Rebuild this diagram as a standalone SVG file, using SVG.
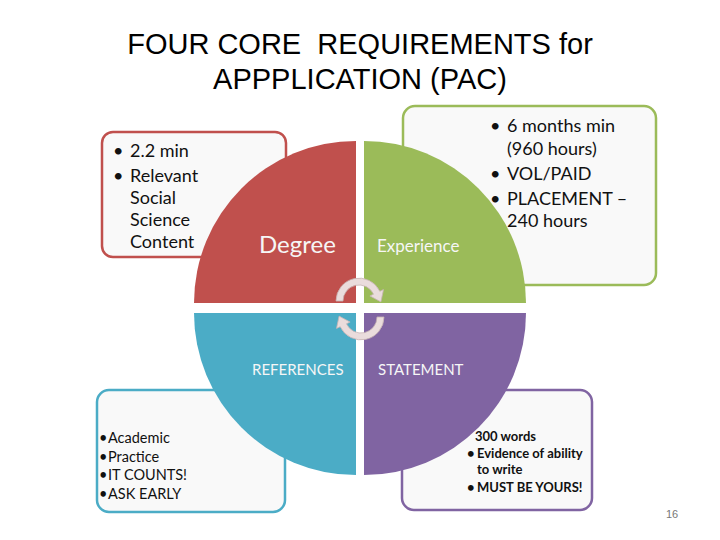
<svg xmlns="http://www.w3.org/2000/svg" width="720" height="540" viewBox="0 0 720 540">
<style>
.title{font-family:"Liberation Sans",Arial,sans-serif;font-size:29px;fill:#000;text-anchor:middle}
.box{fill:#F9F9F9;stroke-width:2.5}
.bt{font-family:Lato,"Open Sans",sans-serif;font-size:18px;fill:#111}
.st{font-family:Lato,"Open Sans",sans-serif;font-size:14.5px;fill:#111}
.sb{font-family:Lato,"Open Sans",sans-serif;font-size:13px;font-weight:bold;fill:#111}
.lbl{font-family:Lato,"Open Sans",sans-serif;fill:#F6F6F6}
.arr{fill:#EADCDC;stroke:#C8B4B4;stroke-width:0.8}
.pg{font-family:"Liberation Sans",Arial,sans-serif;font-size:11px;fill:#777}
</style>
<rect width="720" height="540" fill="#FFFFFF"/>
<g id="title">
<text class="title" x="360" y="54" xml:space="preserve">FOUR CORE  REQUIREMENTS for</text>
<text class="title" x="360" y="89">APPPLICATION (PAC)</text>
</g>
<g id="box-degree">
<rect class="box" x="102" y="132" width="184" height="125" rx="11" stroke="#C0504D"/>
<text class="bt" x="113" y="157">•</text><text class="bt" x="130" y="157">2.2 min</text>
<text class="bt" x="113" y="182">•</text><text class="bt" x="130" y="182">Relevant</text>
<text class="bt" x="130" y="204">Social</text>
<text class="bt" x="130" y="226">Science</text>
<text class="bt" x="130" y="248">Content</text>
</g>
<g id="box-experience">
<rect class="box" x="403" y="106" width="253" height="179" rx="12" stroke="#9BBB59"/>
<text class="bt" x="490" y="132">•</text><text class="bt" x="507" y="132">6 months min</text>
<text class="bt" x="507" y="155">(960 hours)</text>
<text class="bt" x="490" y="180">•</text><text class="bt" x="507" y="180">VOL/PAID</text>
<text class="bt" x="490" y="205">•</text><text class="bt" x="507" y="205">PLACEMENT –</text>
<text class="bt" x="507" y="227">240 hours</text>
</g>
<g id="box-references">
<rect class="box" x="97" y="390" width="188" height="122" rx="12" stroke="#4BACC6"/>
<text class="st" x="99" y="443">•</text><text class="st" x="108" y="443">Academic</text>
<text class="st" x="99" y="462">•</text><text class="st" x="108" y="462">Practice</text>
<text class="st" x="99" y="480">•</text><text class="st" x="108" y="480">IT COUNTS!</text>
<text class="st" x="99" y="499">•</text><text class="st" x="108" y="499">ASK EARLY</text>
</g>
<g id="box-statement">
<rect class="box" x="402" y="390" width="190" height="120" rx="12" stroke="#8064A2"/>
<text class="sb" x="475" y="441">300 words</text>
<text class="sb" x="467" y="458">•</text><text class="sb" x="477" y="458">Evidence of ability</text>
<text class="sb" x="477" y="474">to write</text>
<text class="sb" x="467" y="492">•</text><text class="sb" x="477" y="492">MUST BE YOURS!</text>
</g>
<g id="degree">
<path d="M356,303 H194 A162 162 0 0 1 356,141 Z" fill="#C0504D"/>
<text class="lbl" x="259" y="253" font-size="24">Degree</text>
</g>
<g id="experience">
<path d="M364,303 V141 A162 162 0 0 1 526,303 Z" fill="#9BBB59"/>
<text class="lbl" x="377" y="252" font-size="17">Experience</text>
</g>
<g id="references">
<path d="M356,313 V475 A162 162 0 0 1 194,313 Z" fill="#4BACC6"/>
<text class="lbl" x="252" y="375" font-size="15">REFERENCES</text>
</g>
<g id="statement">
<path d="M364,313 H526 A162 162 0 0 1 364,475 Z" fill="#8064A2"/>
<text class="lbl" x="378" y="375" font-size="15">STATEMENT</text>
</g>
<g id="connectors">
<path class="arr" d="M336,301 A23 23 0 0 1 379.8,291.3 L383.5,289.6 L380.9,301.9 L369.9,295.9 L373.5,294.2 A16 16 0 0 0 343,301 Z"/>
<path class="arr" d="M336,301 A23 23 0 0 1 379.8,291.3 L383.5,289.6 L380.9,301.9 L369.9,295.9 L373.5,294.2 A16 16 0 0 0 343,301 Z" transform="rotate(180 360 309)"/>
</g>
<g id="page-number">
<text class="pg" x="666" y="518">16</text>
</g>
</svg>
